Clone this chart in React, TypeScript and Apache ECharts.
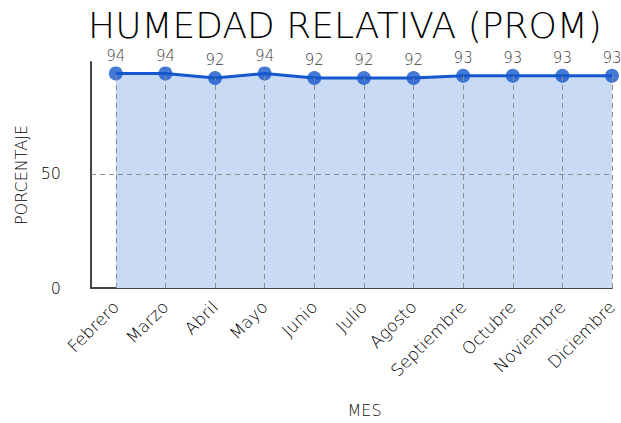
import React, { useEffect, useRef } from "react";
import * as echarts from "echarts";

const months = ["Febrero", "Marzo", "Abril", "Mayo", "Junio", "Julio", "Agosto", "Septiembre", "Octubre", "Noviembre", "Diciembre"];
const humidity = [94, 94, 92, 94, 92, 92, 92, 93, 93, 93, 93];
const yTicks = [0, 50];

const FONT = "DejaVu Sans";

export default function App() {
  const ref = useRef<HTMLDivElement>(null);
  useEffect(() => {
    const chart = echarts.init(ref.current!, null, { renderer: "svg" });
    const pts = humidity.map((v, i) => [i, v]);
    chart.setOption({
      animation: false,
      backgroundColor: "#ffffff",
      title: {
        text: "HUMEDAD RELATIVA (PROM)",
        left: 340,
        textAlign: "center",
        top: 1,
        textStyle: { fontFamily: FONT, fontWeight: 200, fontSize: 36, lineHeight: 38, color: "#000" },
      },
      grid: { left: 91, right: 9, top: 62, bottom: 135, outerBoundsMode: "none", containLabel: false },
      xAxis: {
        type: "value",
        min: -0.5,
        max: 10,
        interval: 0.5,
        name: "MES",
        nameLocation: "middle",
        nameGap: 114,
        nameTextStyle: { fontFamily: FONT, fontWeight: 200, fontSize: 16, color: "#111", padding: [0, 0, 0, 26] },
        axisLine: { show: true, onZero: false, lineStyle: { color: "#444", width: 2 } },
        axisTick: { show: false },
        splitLine: { show: false },
        axisLabel: {
          rotate: 45,
          margin: 16,
          fontFamily: FONT,
          fontWeight: 200,
          fontSize: 17,
          color: "#000",
          formatter: (v: number) => (Number.isInteger(v) && v >= 0 ? months[v] : ""),
          showMinLabel: false,
        },
      },
      yAxis: {
        type: "value",
        min: 0,
        max: 99,
        interval: 50,
        name: "PORCENTAJE",
        nameLocation: "middle",
        nameGap: 53,
        nameTextStyle: { fontFamily: FONT, fontWeight: 200, fontSize: 16, color: "#000" },
        axisLine: { show: true, onZero: false, lineStyle: { color: "#444", width: 2 } },
        axisTick: { show: false },
        splitLine: { show: false },
        axisLabel: {
          margin: 30,
          fontFamily: FONT,
          fontWeight: 200,
          fontSize: 16,
          color: "#000",
          formatter: (v: number) => (yTicks.includes(v) ? String(v) : ""),
        },
      },
      series: [
        {
          type: "line",
          data: pts,
          showSymbol: false,
          lineStyle: { color: "#1557cc", width: 3 },
          areaStyle: { color: "#c9dbf4", opacity: 1, origin: "start" },
          z: 2,
          silent: true,
        },
        {
          type: "line",
          data: [],
          z: 3,
          silent: true,
          markLine: {
            silent: true,
            symbol: "none",
            label: { show: false },
            lineStyle: { type: [5, 4], color: "#8c8c8c", width: 1 },
            data: [
              ...yTicks.filter((t) => t > 0).map((t) => [{ coord: [-0.5, t] }, { coord: [10, t] }]),
              ...humidity.map((v, i) => [{ coord: [i, 0] }, { coord: [i, v] }]),
            ],
          },
        },
        {
          type: "scatter",
          data: pts,
          symbol: "circle",
          symbolSize: 14,
          itemStyle: { color: "#1557cc" },
          z: 4,
          label: {
            show: true,
            position: "top",
            distance: 3,
            fontFamily: FONT,
            fontWeight: 200,
            fontSize: 15,
            lineHeight: 15,
            color: "#000",
            formatter: (p: any) => String(p.value[1]),
          },
        },
      ],
    });
    return () => chart.dispose();
  }, []);
  return <div ref={ref} style={{ width: 621, height: 423, position: "absolute", left: 0, top: 0 }} />;
}
